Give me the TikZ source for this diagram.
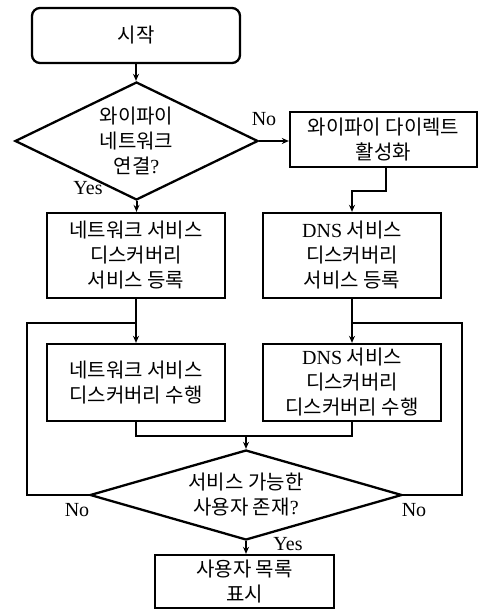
\documentclass[tikz,border=0pt]{standalone}
\usepackage{fontspec}
\setmainfont{Liberation Serif}
\newfontfamily\kr{Noto Sans CJK KR}
\usetikzlibrary{shapes.geometric,arrows.meta}
\begin{document}
\begin{tikzpicture}[x=1pt,y=-1pt,
  box/.style={draw,line width=2.3pt,inner sep=0pt,align=center,
    font=\fontsize{20}{25}\selectfont\kr},
  dia/.style={draw,diamond,line width=2.3pt,inner sep=0pt,align=center,
    font=\fontsize{20}{25}\selectfont\kr},
  lbl/.style={inner sep=0pt,font=\fontsize{20}{22}\selectfont},
  conn/.style={line width=2pt},
  arr/.style={line width=2pt,-{Stealth[length=7pt,width=6pt]}}]
\useasboundingbox (0,0) rectangle (479,610);

\node[box,rounded corners=8pt,minimum width=208pt,minimum height=55pt] (start) at (136,35.5) {시작};
\node[dia,aspect=2.06,minimum width=243pt,minimum height=118pt] (d1) at (136.5,141) {와이파이\\네트워크\\연결{\rmfamily ?}};
\node[box,minimum width=187pt,minimum height=55pt] (wd) at (383.5,139.5) {와이파이 다이렉트\\활성화};
\node[box,minimum width=178pt,minimum height=85pt] (A) at (136,255.5) {네트워크 서비스\\디스커버리\\서비스 등록};
\node[box,minimum width=178pt,minimum height=85pt] (B) at (352,255.5) {{\rmfamily DNS} 서비스\\디스커버리\\서비스 등록};
\node[box,minimum width=178pt,minimum height=77pt] (C) at (136,382.5) {네트워크 서비스\\디스커버리 수행};
\node[box,minimum width=178pt,minimum height=77pt] (D) at (352,382.5) {{\rmfamily DNS} 서비스\\디스커버리\\디스커버리 수행};
\node[dia,aspect=3.47,minimum width=312pt,minimum height=90pt] (d2) at (246,495) {서비스 가능한\\사용자 존재{\rmfamily ?}};
\node[box,minimum width=179pt,minimum height=53pt] (fin) at (244.5,581.5) {사용자 목록\\표시};

\node[lbl] (lno1) at (264,119) {No};
\node[lbl] (lyes1) at (88,188) {Yes};
\node[lbl] (lno2) at (77,510) {No};
\node[lbl] (lno3) at (414,510) {No};
\node[lbl] (lyes2) at (288,544) {Yes};

\draw[arr] (start.south) -- (start.south |- d1.north);
\draw[arr] (d1.east) -- (d1.east -| wd.west);
\draw[arr] (d1.south) -- (d1.south |- A.north);
\draw[arr] ([xshift=2.5pt]wd.south) -- ++(0,23) -| (B.north);
\draw[arr] (A.south) -- (C.north);
\draw[arr] (B.south) -- (D.north);
\coordinate (m) at (246,435);
\draw[conn] (C.south) -- ++(0,14) -| (D.south);
\draw[arr] (m) -- (d2.north);
\coordinate (lc) at (27,323);
\coordinate (lj) at (136,323);
\coordinate (rc) at (462,323);
\coordinate (rj) at (352,323);
\draw[conn] (d2.west) -| (lc) -- (lj);
\draw[conn] (d2.east) -| (rc) -- (rj);
\draw[arr] (d2.south) -- (d2.south |- fin.north);
\end{tikzpicture}
\end{document}
